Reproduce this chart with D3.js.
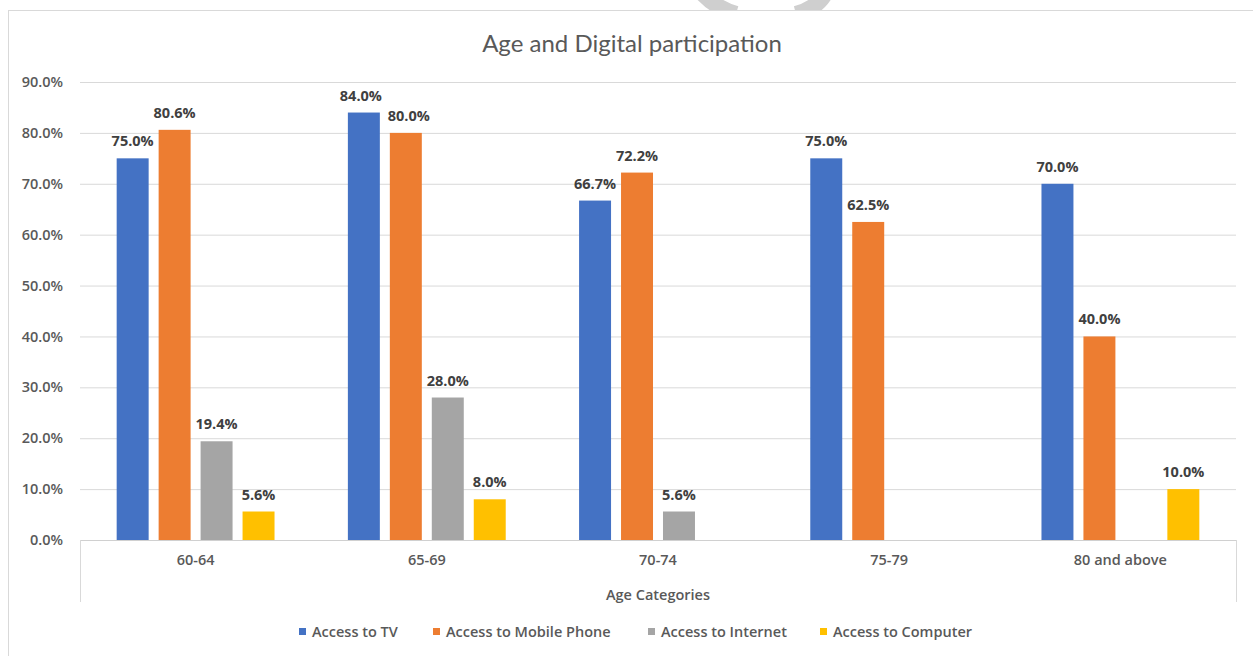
<!DOCTYPE html>
<html>
<head>
<meta charset="utf-8">
<script src="https://cdn.jsdelivr.net/npm/d3@7"></script>
<style>
  html, body { margin: 0; padding: 0; background: #fff; }
  svg { display: block; }
</style>
</head>
<body>
<svg id="chart" width="1253" height="656"></svg>
<script>
// Age groups on the category axis
const categories = ["60-64", "65-69", "70-74", "75-79", "80 and above"];

// Share of respondents with each kind of access (percent); null = no bar
const seriesNames = ["Access to TV", "Access to Mobile Phone", "Access to Internet", "Access to Computer"];
const accessTV       = [75.0, 84.0, 66.7, 75.0, 70.0];
const accessMobile   = [80.6, 80.0, 72.2, 62.5, 40.0];
const accessInternet = [19.4, 28.0, 5.6, null, null];
const accessComputer = [5.6, 8.0, null, null, 10.0];

const yTicks = [0, 10, 20, 30, 40, 50, 60, 70, 80, 90];
const seriesColors = ["#4472C4", "#ED7D31", "#A5A5A5", "#FFC000"];

const seriesValues = [accessTV, accessMobile, accessInternet, accessComputer];

const svg = d3.select("#chart");
const W = 1253, H = 656;
const plot = { left: 80, right: 1236, top: 82, bottom: 540 };
const FONT = "'Open Sans', sans-serif";
const FS = "14.5px";

// Faint mark peeking over the top edge
const mark = svg.append("g").attr("fill", "none").attr("stroke", "#cfcfcf")
  .attr("stroke-width", 16).attr("stroke-linecap", "butt");
mark.append("path").attr("d", "M703,-6 Q716,8 736,14");
mark.append("path").attr("d", "M826,-8 Q818,8 796,14");

// Chart area border
svg.append("rect")
  .attr("x", 8.5).attr("y", 10.5)
  .attr("width", W + 20).attr("height", H + 20)
  .attr("fill", "#fff").attr("stroke", "#d9d9d9").attr("stroke-width", 1);

// Scales
const y = d3.scaleLinear().domain([0, 90]).range([plot.bottom, plot.top]);
const x0 = d3.scaleBand().domain(categories).range([plot.left, plot.right]).padding(0);
const x1 = d3.scaleBand().domain(d3.range(seriesNames.length))
  .range([0, x0.bandwidth()]).paddingInner(0.238).paddingOuter(0.874);

// Gridlines + y tick labels
const yAxis = d3.axisLeft(y).tickValues(yTicks)
  .tickFormat(d => d3.format(".1f")(d) + "%")
  .tickSize(-(plot.right - plot.left)).tickPadding(17);
const gy = svg.append("g").attr("transform", `translate(${plot.left},0)`).call(yAxis);
gy.select(".domain").remove();
gy.selectAll(".tick line").attr("stroke", "#d9d9d9").attr("stroke-width", 1);
gy.selectAll(".tick text")
  .attr("fill", "#595959")
  .style("font-family", FONT)
  .style("font-size", FS)
  .style("font-weight", "600");

// Category axis: baseline and end walls
const gx = svg.append("g").attr("transform", `translate(0,${plot.bottom})`)
  .call(d3.axisBottom(x0).tickSize(0).tickPadding(15));
gx.select(".domain").remove();
gx.selectAll(".tick text")
  .attr("fill", "#595959")
  .style("font-family", FONT)
  .style("font-size", FS)
  .style("font-weight", "600");
svg.append("line")
  .attr("x1", plot.left).attr("x2", plot.right)
  .attr("y1", plot.bottom + 0.5).attr("y2", plot.bottom + 0.5)
  .attr("stroke", "#d0d0d0");
[plot.left, plot.right].forEach(px => {
  svg.append("line")
    .attr("x1", px + 0.5).attr("x2", px + 0.5)
    .attr("y1", plot.bottom).attr("y2", plot.bottom + 62)
    .attr("stroke", "#d9d9d9");
});

// Bars and value labels
const rows = [];
seriesValues.forEach((vals, s) => {
  vals.forEach((v, c) => { if (v !== null) rows.push({ s, c, v }); });
});

svg.append("g").selectAll("rect").data(rows).join("rect")
  .attr("x", d => x0(categories[d.c]) + x1(d.s))
  .attr("y", d => y(d.v))
  .attr("width", x1.bandwidth())
  .attr("height", d => y(0) - y(d.v))
  .attr("fill", d => seriesColors[d.s]);

// Small nudges where neighbouring labels would collide
const labelShift = { "1-0": -3, "1-1": 3 };
svg.append("g").selectAll("text").data(rows).join("text")
  .attr("x", d => x0(categories[d.c]) + x1(d.s) + x1.bandwidth() / 2 + (labelShift[d.c + "-" + d.s] || 0))
  .attr("y", d => y(d.v) - 12)
  .attr("text-anchor", "middle")
  .attr("fill", "#404040")
  .style("font-family", FONT)
  .style("font-size", FS)
  .style("font-weight", "700")
  .text(d => d3.format(".1f")(d.v) + "%");

// Title
svg.append("text")
  .attr("x", 632).attr("y", 52)
  .attr("text-anchor", "middle")
  .attr("fill", "#595959")
  .style("font-family", "Lato, sans-serif")
  .style("font-size", "24px")
  .text("Age and Digital participation");

// Axis title
svg.append("text")
  .attr("x", 658).attr("y", 600)
  .attr("text-anchor", "middle")
  .attr("fill", "#595959")
  .style("font-family", FONT)
  .style("font-size", FS)
  .style("font-weight", "600")
  .text("Age Categories");

// Legend
const legendX = [299, 433, 648, 820];
const lg = svg.append("g");
seriesNames.forEach((name, i) => {
  lg.append("rect").attr("x", legendX[i]).attr("y", 628)
    .attr("width", 7).attr("height", 7).attr("fill", seriesColors[i]);
  lg.append("text").attr("x", legendX[i] + 13).attr("y", 637)
    .attr("fill", "#595959")
    .style("font-family", FONT)
    .style("font-size", FS)
    .style("font-weight", "600")
    .text(name);
});
</script>
</body>
</html>
